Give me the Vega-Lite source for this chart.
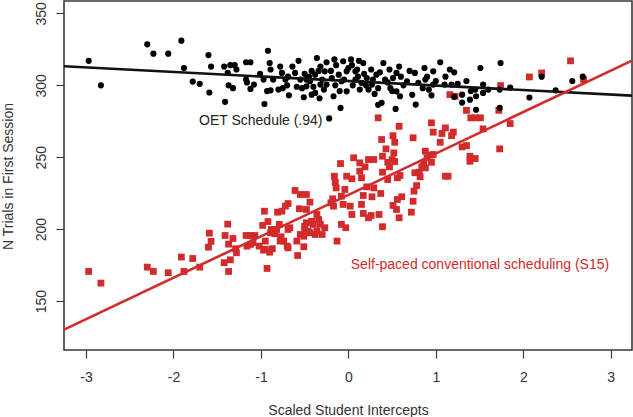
{
  "$schema": "https://vega.github.io/schema/vega-lite/v6.json",
  "width": 568,
  "height": 349,
  "autosize": {"type": "none"},
  "padding": {"left": 64, "top": 1, "right": 1, "bottom": 67},
  "background": "white",
  "config": {
    "font": "Liberation Sans",
    "view": {"stroke": "#3a3a3a", "strokeWidth": 1.6},
    "axis": {
      "grid": false,
      "domain": false,
      "tickColor": "#3a3a3a",
      "tickWidth": 1.2,
      "tickSize": 8,
      "labelFont": "Liberation Sans",
      "labelFontSize": 14,
      "labelColor": "#333333",
      "titleFont": "Liberation Sans",
      "titleFontSize": 14,
      "titleFontWeight": "normal",
      "titleColor": "#333333"
    }
  },
  "datasets": {
    "oet": [
      {"x": -2.97, "y": 317}, {"x": -2.83, "y": 300}, {"x": -2.3, "y": 328.5}, {"x": -2.23, "y": 322},
      {"x": -2.06, "y": 322}, {"x": -1.91, "y": 331}, {"x": -1.88, "y": 312}, {"x": -1.78, "y": 302.6},
      {"x": -1.7, "y": 301}, {"x": -1.6, "y": 321}, {"x": -1.59, "y": 295}, {"x": -1.57, "y": 313},
      {"x": -1.42, "y": 313}, {"x": -1.41, "y": 288.5}, {"x": -1.38, "y": 308.6}, {"x": -1.37, "y": 300},
      {"x": -1.32, "y": 298}, {"x": -1.35, "y": 314}, {"x": -1.3, "y": 314}, {"x": -1.28, "y": 311},
      {"x": -1.17, "y": 316}, {"x": -1.12, "y": 316}, {"x": -1.17, "y": 304}, {"x": -1.16, "y": 302},
      {"x": -1.12, "y": 297.5}, {"x": -1.08, "y": 300.5}, {"x": -1.01, "y": 308}, {"x": -0.97, "y": 304},
      {"x": -0.96, "y": 287}, {"x": -0.92, "y": 324}, {"x": -0.9, "y": 315.5}, {"x": -0.93, "y": 296},
      {"x": -0.89, "y": 296.5}, {"x": -0.89, "y": 311}, {"x": -0.86, "y": 304}, {"x": -0.8, "y": 297},
      {"x": -0.78, "y": 313}, {"x": -0.76, "y": 308.6}, {"x": -0.75, "y": 298}, {"x": -0.72, "y": 304},
      {"x": -0.69, "y": 306}, {"x": -0.68, "y": 293}, {"x": -0.57, "y": 317}, {"x": -0.61, "y": 308.6},
      {"x": -0.59, "y": 299}, {"x": -0.55, "y": 304}, {"x": -0.51, "y": 291.7}, {"x": -0.5, "y": 308},
      {"x": -0.48, "y": 299.3}, {"x": -0.44, "y": 302.8}, {"x": -0.38, "y": 294.7}, {"x": -0.36, "y": 319},
      {"x": -0.34, "y": 310}, {"x": -0.33, "y": 291}, {"x": -0.22, "y": 277}, {"x": -0.32, "y": 313},
      {"x": -0.16, "y": 318}, {"x": -0.14, "y": 314}, {"x": -0.06, "y": 316.7}, {"x": 0.03, "y": 318},
      {"x": 0.04, "y": 314}, {"x": 0.17, "y": 315.5}, {"x": 0.26, "y": 311}, {"x": 0.4, "y": 315.5},
      {"x": 0.47, "y": 311}, {"x": 0.55, "y": 308.6}, {"x": 0.76, "y": 308.6}, {"x": 0.87, "y": 312},
      {"x": 0.97, "y": 309.7}, {"x": 1.05, "y": 316}, {"x": 1.16, "y": 311}, {"x": 1.21, "y": 309},
      {"x": 1.11, "y": 306}, {"x": 1.51, "y": 312}, {"x": 1.74, "y": 315.5}, {"x": 2.21, "y": 306},
      {"x": 2.56, "y": 303}, {"x": 2.68, "y": 306}, {"x": 2.37, "y": 296.5}, {"x": 2.07, "y": 291.5},
      {"x": 1.85, "y": 298.4}, {"x": 1.73, "y": 297}, {"x": 1.73, "y": 284.3}, {"x": 1.54, "y": 300.5},
      {"x": 1.54, "y": 294.7}, {"x": 1.46, "y": 283}, {"x": 1.46, "y": 292.4}, {"x": 1.39, "y": 290},
      {"x": 1.35, "y": 303}, {"x": 1.3, "y": 293.5}, {"x": 1.21, "y": 292}, {"x": 1.18, "y": 300.5},
      {"x": 1.1, "y": 300.5}, {"x": 0.97, "y": 300.5}, {"x": 0.92, "y": 297}, {"x": 0.77, "y": 286.6},
      {"x": 0.73, "y": 293.4}, {"x": 0.54, "y": 283.6}, {"x": 0.59, "y": 292.4}, {"x": 0.55, "y": 295.8},
      {"x": 0.48, "y": 298}, {"x": 0.38, "y": 287.8}, {"x": 0.34, "y": 286.4}, {"x": 0.34, "y": 298},
      {"x": 0.27, "y": 300.5}, {"x": 0.23, "y": 297}, {"x": 0.13, "y": 297}, {"x": 0.08, "y": 304},
      {"x": -0.02, "y": 295.8}, {"x": -0.09, "y": 284.3}, {"x": -0.17, "y": 292.4}, {"x": -0.42, "y": 293.5},
      {"x": -0.48, "y": 304}, {"x": -0.27, "y": 309.7}, {"x": -0.19, "y": 305}, {"x": -0.11, "y": 307.4},
      {"x": -0.02, "y": 309.7}, {"x": 0.11, "y": 306}, {"x": 0.21, "y": 305}, {"x": 0.32, "y": 307.4},
      {"x": 0.42, "y": 304}, {"x": 0.51, "y": 305}, {"x": 0.67, "y": 302.8}, {"x": 0.8, "y": 301.7},
      {"x": 0.88, "y": 304}, {"x": -0.32, "y": 300.5}, {"x": -0.08, "y": 302.8}, {"x": 0.15, "y": 301.7},
      {"x": 0.08, "y": 309.7}, {"x": -0.38, "y": 307.4}, {"x": -0.25, "y": 300.5}, {"x": -0.45, "y": 306},
      {"x": -0.42, "y": 310}, {"x": -0.3, "y": 304}, {"x": -0.28, "y": 297}, {"x": -0.2, "y": 310},
      {"x": -0.15, "y": 300}, {"x": -0.05, "y": 304}, {"x": 0.0, "y": 312}, {"x": 0.05, "y": 300},
      {"x": 0.1, "y": 311}, {"x": 0.18, "y": 308}, {"x": 0.2, "y": 300}, {"x": 0.28, "y": 304},
      {"x": 0.36, "y": 309}, {"x": 0.45, "y": 302}, {"x": 0.5, "y": 296}, {"x": 0.6, "y": 306},
      {"x": 0.63, "y": 300}, {"x": 0.7, "y": 310}, {"x": 0.85, "y": 298}, {"x": 0.9, "y": 306},
      {"x": 1.0, "y": 303}, {"x": 1.25, "y": 301}, {"x": 1.4, "y": 296}, {"x": 1.6, "y": 297},
      {"x": -0.7, "y": 300}, {"x": -0.64, "y": 313}, {"x": -0.53, "y": 298}, {"x": -0.4, "y": 299},
      {"x": -0.25, "y": 316}, {"x": -0.1, "y": 296}, {"x": 0.12, "y": 317}, {"x": 0.3, "y": 294},
      {"x": 0.58, "y": 313}, {"x": 0.95, "y": 293}, {"x": 1.3, "y": 288}, {"x": 1.45, "y": 297}
    ],
    "s15": [
      {"x": -2.97, "y": 170.6}, {"x": -2.83, "y": 162.5}, {"x": -2.3, "y": 173.6}, {"x": -2.23, "y": 170.6},
      {"x": -2.06, "y": 169.7}, {"x": -1.91, "y": 180.6}, {"x": -1.88, "y": 170.6}, {"x": -1.78, "y": 179.6},
      {"x": -1.7, "y": 173.6}, {"x": -1.6, "y": 187.5}, {"x": -1.59, "y": 197.2}, {"x": -1.57, "y": 191.5},
      {"x": -1.42, "y": 176.7}, {"x": -1.38, "y": 203.5}, {"x": -1.41, "y": 195.6}, {"x": -1.37, "y": 189.6},
      {"x": -1.37, "y": 170.6}, {"x": -1.35, "y": 178.7}, {"x": -1.32, "y": 193.5}, {"x": -1.28, "y": 183.6},
      {"x": -1.29, "y": 186.4}, {"x": -1.17, "y": 195.6}, {"x": -1.16, "y": 188.2}, {"x": -1.12, "y": 195.6},
      {"x": -1.09, "y": 190.6}, {"x": -1.07, "y": 195.6}, {"x": -1.02, "y": 188.2}, {"x": -0.98, "y": 202.6},
      {"x": -0.96, "y": 212.5}, {"x": -0.95, "y": 191.7}, {"x": -0.97, "y": 185.4}, {"x": -0.93, "y": 172.7},
      {"x": -0.9, "y": 184}, {"x": -0.92, "y": 205.3}, {"x": -0.87, "y": 186.4}, {"x": -0.89, "y": 197.5},
      {"x": -0.82, "y": 199.8}, {"x": -0.79, "y": 203.3}, {"x": -0.81, "y": 211.8}, {"x": -0.76, "y": 212.5},
      {"x": -0.77, "y": 194.7}, {"x": -0.74, "y": 191.7}, {"x": -0.72, "y": 216}, {"x": -0.69, "y": 217.8},
      {"x": -0.7, "y": 188.2}, {"x": -0.67, "y": 201}, {"x": -0.59, "y": 191.7}, {"x": -0.58, "y": 181.7},
      {"x": -0.56, "y": 214.2}, {"x": -0.55, "y": 196.3}, {"x": -0.51, "y": 187.8}, {"x": -0.5, "y": 202},
      {"x": -0.48, "y": 213.7}, {"x": -0.44, "y": 218.8}, {"x": -0.46, "y": 198.6}, {"x": -0.42, "y": 205.5},
      {"x": -0.38, "y": 196.3}, {"x": -0.36, "y": 210.2}, {"x": -0.61, "y": 226.9}, {"x": -0.55, "y": 224.1},
      {"x": -0.48, "y": 224.1}, {"x": -0.88, "y": 199.8}, {"x": -0.84, "y": 196.8}, {"x": -0.69, "y": 199.8},
      {"x": -0.78, "y": 191.7}, {"x": -0.69, "y": 187}, {"x": -0.44, "y": 197.5}, {"x": -0.48, "y": 204.4},
      {"x": -0.95, "y": 186}, {"x": -1.12, "y": 189.4},
      {"x": 0.34, "y": 277.4}, {"x": 0.58, "y": 271.5}, {"x": 0.51, "y": 265}, {"x": 0.53, "y": 260.4},
      {"x": 0.38, "y": 262.3}, {"x": 0.95, "y": 273.9}, {"x": 0.97, "y": 267.4}, {"x": 1.11, "y": 270.4},
      {"x": 1.07, "y": 266.5}, {"x": 1.05, "y": 260.4}, {"x": 0.74, "y": 263.5}, {"x": 0.43, "y": 255.8},
      {"x": 0.52, "y": 253}, {"x": 0.5, "y": 248.4}, {"x": 0.45, "y": 246.5}, {"x": 0.47, "y": 243.3},
      {"x": 0.53, "y": 247}, {"x": 0.39, "y": 250.7}, {"x": 0.29, "y": 248.4}, {"x": 0.23, "y": 248.4},
      {"x": 0.13, "y": 246.1}, {"x": 0.06, "y": 249.6}, {"x": -0.09, "y": 245.6}, {"x": 0.19, "y": 243.3},
      {"x": 0.13, "y": 240.3}, {"x": 0.39, "y": 239.6}, {"x": 0.56, "y": 235.7}, {"x": 0.59, "y": 237.3},
      {"x": 0.45, "y": 234.5}, {"x": -0.02, "y": 236.8}, {"x": 0.04, "y": 235}, {"x": 0.15, "y": 235.7},
      {"x": -0.16, "y": 236.8}, {"x": -0.15, "y": 232.6}, {"x": -0.14, "y": 228.7}, {"x": -0.04, "y": 227.6},
      {"x": 0.21, "y": 229.4}, {"x": 0.29, "y": 228.7}, {"x": 0.17, "y": 223.4}, {"x": 0.27, "y": 222.5},
      {"x": 0.37, "y": 224.8}, {"x": -0.08, "y": 222.9}, {"x": -0.18, "y": 221.1}, {"x": -0.2, "y": 218.3},
      {"x": -0.17, "y": 216}, {"x": -0.06, "y": 217.2}, {"x": 0.02, "y": 216}, {"x": 0.15, "y": 217.2},
      {"x": 0.17, "y": 210.9}, {"x": 0.23, "y": 207.9}, {"x": 0.26, "y": 209.5}, {"x": 0.35, "y": 210.2},
      {"x": 0.04, "y": 210.2}, {"x": -0.08, "y": 203.3}, {"x": -0.03, "y": 201}, {"x": -0.13, "y": 191.7},
      {"x": 0.39, "y": 201.7}, {"x": 0.58, "y": 207.9}, {"x": 0.51, "y": 216.5}, {"x": 0.56, "y": 220.6},
      {"x": 0.61, "y": 222.5}, {"x": 0.55, "y": 213.7}, {"x": 0.72, "y": 211.8}, {"x": 0.74, "y": 219.4},
      {"x": 0.75, "y": 226.4}, {"x": 0.78, "y": 230.3}, {"x": 0.76, "y": 239.2}, {"x": 0.81, "y": 239.6},
      {"x": 0.84, "y": 243.3}, {"x": 0.86, "y": 246.1}, {"x": 0.88, "y": 254.2}, {"x": 0.9, "y": 249.6},
      {"x": 0.95, "y": 246.5}, {"x": 0.97, "y": 251.9}, {"x": 1.11, "y": 236.8}, {"x": -0.34, "y": 206.7},
      {"x": -0.32, "y": 203.3}, {"x": -0.4, "y": 203.3}, {"x": -0.27, "y": 201}, {"x": -0.36, "y": 198.6},
      {"x": -0.3, "y": 196.3}, {"x": -0.5, "y": 199.8}, {"x": -0.51, "y": 195.1},
      {"x": 2.07, "y": 305.8}, {"x": 2.21, "y": 308.6}, {"x": 2.54, "y": 317}, {"x": 1.74, "y": 299.8},
      {"x": 1.16, "y": 293.5}, {"x": 1.22, "y": 292.4}, {"x": 1.35, "y": 282.6}, {"x": 1.72, "y": 282.6},
      {"x": 1.4, "y": 277.4}, {"x": 1.45, "y": 277.4}, {"x": 1.51, "y": 277.4}, {"x": 1.54, "y": 269.7},
      {"x": 1.85, "y": 273.4}, {"x": 1.2, "y": 267.4}, {"x": 1.18, "y": 265}, {"x": 1.3, "y": 257.2},
      {"x": 1.35, "y": 258.1}, {"x": 1.39, "y": 250.7}, {"x": 1.45, "y": 249.1}, {"x": 1.39, "y": 247.2},
      {"x": 1.73, "y": 255.8}, {"x": 0.93, "y": 251.4}, {"x": 0.88, "y": 242.6}, {"x": 0.82, "y": 236.4},
      {"x": 1.14, "y": 236.8}, {"x": 2.69, "y": 304}
    ],
    "fits": [
      {"x": -3.252, "y": 313.2, "group": "OET"}, {"x": 3.243, "y": 292.8, "group": "OET"},
      {"x": -3.252, "y": 130.2, "group": "S15"}, {"x": 3.243, "y": 317.2, "group": "S15"}
    ],
    "oetLabel": [{"x": -1.708, "y": 272.7, "text": "OET Schedule (.94)"}],
    "s15Label": [{"x": 0.027, "y": 172.4, "text": "Self-paced conventional scheduling (S15)"}]
  },
  "encoding": {
    "x": {
      "field": "x",
      "type": "quantitative",
      "scale": {"domain": [-3.252, 3.243], "nice": false, "zero": false},
      "axis": {
        "title": "Scaled Student Intercepts",
        "values": [-3, -2, -1, 0, 1, 2, 3],
        "labelExpr": "replace(datum.label, '\u2212', '-')",
        "labelPadding": 12,
        "labelFlush": false,
        "titleY": 64,
        "titleBaseline": "alphabetic"
      }
    },
    "y": {
      "field": "y",
      "type": "quantitative",
      "scale": {"domain": [116, 358.6], "nice": false, "zero": false},
      "axis": {
        "title": "N Trials in First Session",
        "values": [150, 200, 250, 300, 350],
        "labelAngle": -90,
        "labelAlign": "center",
        "labelBaseline": "alphabetic",
        "labelPadding": 11,
        "labelFlush": false,
        "titleX": -52,
        "titleY": 175,
        "titleAlign": "center",
        "titleBaseline": "alphabetic",
        "titleAngle": -90
      }
    }
  },
  "layer": [
    {
      "data": {"name": "s15"},
      "mark": {"type": "square", "filled": true, "size": 46, "color": "#d32a2b", "opacity": 1}
    },
    {
      "data": {"name": "oet"},
      "mark": {"type": "circle", "size": 38, "color": "#000000", "opacity": 1}
    },
    {
      "data": {"name": "fits"},
      "mark": {"type": "line", "strokeWidth": 2.6, "clip": true},
      "encoding": {
        "detail": {"field": "group"},
        "color": {
          "field": "group",
          "type": "nominal",
          "scale": {"domain": ["OET", "S15"], "range": ["#111111", "#d32a2b"]},
          "legend": null
        }
      }
    },
    {
      "data": {"name": "oetLabel"},
      "mark": {"type": "text", "align": "left", "baseline": "alphabetic", "fontSize": 14, "color": "#222222"},
      "encoding": {"text": {"field": "text"}}
    },
    {
      "data": {"name": "s15Label"},
      "mark": {"type": "text", "align": "left", "baseline": "alphabetic", "fontSize": 14, "color": "#d32a2b"},
      "encoding": {"text": {"field": "text"}}
    }
  ]
}
